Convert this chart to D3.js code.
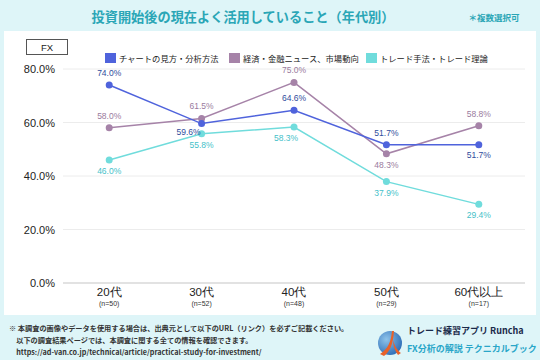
<!DOCTYPE html>
<html><head><meta charset="utf-8">
<script src="https://cdn.jsdelivr.net/npm/d3@7"></script>
<style>
html,body{margin:0;padding:0;background:#def5f8;}
svg{display:block;font-family:"Noto Sans CJK JP","Noto Sans",sans-serif;}
</style></head>
<body>
<svg id="c" width="540" height="360"></svg>
<script>
const categories = ["20代","30代","40代","50代","60代以上"];
const samples = ["(n=50)","(n=52)","(n=48)","(n=29)","(n=17)"];
const seriesNames = ["チャートの見方・分析方法","経済・金融ニュース、市場動向","トレード手法・トレード理論"];
const chartValues = [74.0, 59.6, 64.6, 51.7, 51.7];
const newsValues = [58.0, 61.5, 75.0, 48.3, 58.8];
const tradeValues = [46.0, 55.8, 58.3, 37.9, 29.4];
const yTicks = [0, 20, 40, 60, 80];

const lineColors = ["#4f63dc", "#a683a8", "#70dcdc"];
const labelColors = ["#2f4c9c", "#9a7b9e", "#45bfc9"];
// label placement: [dx, dy]
const labelPos = [
  [[0,-9],[-13,11],[0,-9],[0,-9],[0,13]],
  [[0,-9],[0,-9],[0,-9],[0,14],[0,-9]],
  [[0,14],[0,14],[-8,14],[0,14],[0,14]]
];

const svg = d3.select("#c");
svg.append("rect").attr("width",540).attr("height",360).attr("fill","#def5f8");
svg.append("rect").attr("x",4).attr("y",31).attr("width",532).attr("height",284).attr("fill","#ffffff");

svg.append("text").attr("x",243).attr("y",22).attr("text-anchor","middle")
  .attr("font-size",13.2).attr("font-weight",700).attr("fill","#2aa6b6")
  .text("投資開始後の現在よく活用していること（年代別）");
svg.append("text").attr("x",494).attr("y",21).attr("text-anchor","middle")
  .attr("font-size",8.5).attr("font-weight",700).attr("fill","#2aa6b6").text("＊複数選択可");

// FX box
svg.append("rect").attr("x",26.5).attr("y",39.5).attr("width",41).attr("height",15)
  .attr("fill","#fff").attr("stroke","#555").attr("stroke-width",1);
svg.append("text").attr("x",47).attr("y",51).attr("text-anchor","middle")
  .attr("font-size",9.5).attr("fill","#222").attr("font-family","Liberation Sans, Arial, sans-serif").text("FX");

const x = d3.scaleBand().domain(categories).range([63,525]);
const y = d3.scaleLinear().domain([0,80]).range([283,69]);

// grid
const g = svg.append("g");
g.selectAll("line.grid").data(yTicks).join("line")
  .attr("x1",63).attr("x2",525)
  .attr("y1",d=>y(d)).attr("y2",d=>y(d))
  .attr("stroke",d=>d===0?"#d9d9d9":"#ececec").attr("stroke-width",d=>d===0?1.5:1);

const yAxis = d3.axisLeft(y).tickValues(yTicks).tickSize(0).tickPadding(0).tickFormat(d=>d.toFixed(1)+"%");
const ya = svg.append("g").attr("transform","translate(55,0)").call(yAxis);
ya.select(".domain").remove();
ya.selectAll("text").attr("font-size",11).attr("fill","#222")
  .attr("font-family","Liberation Sans, Arial, sans-serif");

const xAxis = d3.axisBottom(x).tickSize(0).tickPadding(0);
const xa = svg.append("g").attr("transform","translate(0,0)").call(xAxis);
xa.select(".domain").remove();
xa.selectAll(".tick text").remove();
xa.selectAll(".tick").each(function(d,i){
  const t = d3.select(this);
  t.append("text").attr("y",296).attr("text-anchor","middle").attr("font-size",11.5)
    .attr("fill","#222").text(d);
  t.append("text").attr("y",306).attr("text-anchor","middle").attr("font-size",7)
    .attr("fill","#333").text(samples[i]);
});

const allSeries = [chartValues, newsValues, tradeValues];
const cx = d => x(d) + x.bandwidth()/2;
const line = d3.line().x((v,i)=>cx(categories[i])).y(v=>y(v));
const drawOrder = [2,1,0];
drawOrder.forEach(s=>{
  const vals = allSeries[s];
  svg.append("path").datum(vals).attr("d",line).attr("fill","none")
    .attr("stroke",lineColors[s]).attr("stroke-width",1.5);
  svg.selectAll("circle.s"+s).data(vals).join("circle")
    .attr("cx",(v,i)=>cx(categories[i])).attr("cy",v=>y(v)).attr("r",3.5)
    .attr("fill",lineColors[s]);
});
allSeries.forEach((vals,s)=>{
  svg.selectAll("text.l"+s).data(vals).join("text")
    .attr("x",(v,i)=>cx(categories[i])+labelPos[s][i][0])
    .attr("y",(v,i)=>y(v)+labelPos[s][i][1])
    .attr("text-anchor","middle").attr("font-size",8.5)
    .attr("font-family","Liberation Sans, Arial, sans-serif")
    .attr("fill",labelColors[s]).text(v=>v.toFixed(1)+"%");
});

// legend
const legX = [105, 229, 366];
seriesNames.forEach((n,i)=>{
  svg.append("rect").attr("x",legX[i]).attr("y",53).attr("width",11).attr("height",10).attr("fill",lineColors[i]);
  svg.append("text").attr("x",legX[i]+14).attr("y",61.5).attr("font-size",8.3).attr("fill","#222").text(n);
});

// footer
const notes = ["※ 本調査の画像やデータを使用する場合は、出典元として以下のURL（リンク）を必ずご記載ください。",
  "　以下の調査結果ページでは、本調査に関する全ての情報を確認できます。",
  "　https://ad-van.co.jp/technical/article/practical-study-for-investment/"];
notes.forEach((t,i)=>{
  svg.append("text").attr("x",9).attr("y",331+i*12).attr("font-size",7.2).attr("font-weight",700)
    .attr("fill","#333").text(t);
});
const defs = svg.append("defs");
const gr = defs.append("radialGradient").attr("id","lg").attr("cx","35%").attr("cy","35%").attr("r","70%");
gr.append("stop").attr("offset","0%").attr("stop-color","#8ec3ea");
gr.append("stop").attr("offset","100%").attr("stop-color","#2f6fb8");
svg.append("circle").attr("cx",390).attr("cy",343).attr("r",12).attr("fill","url(#lg)");
svg.append("path").attr("d","M392,331 C391,342 388,349 380,354 L384,356 C389,352 393,346 394,331 Z").attr("fill","#e8622a");
svg.append("path").attr("d","M393,340 C395,347 398,351 401,353 L398,355 C395,351 393,346 393,340 Z").attr("fill","#e8622a");
svg.append("text").attr("x",407).attr("y",334).attr("font-size",9).attr("font-weight",700).attr("fill","#1a2a4a").text("トレード練習アプリ  Runcha");
svg.append("text").attr("x",407).attr("y",352).attr("font-size",9).attr("font-weight",700).attr("fill","#2aa6c8").text("FX分析の解説  テクニカルブック");
</script>
</body></html>
